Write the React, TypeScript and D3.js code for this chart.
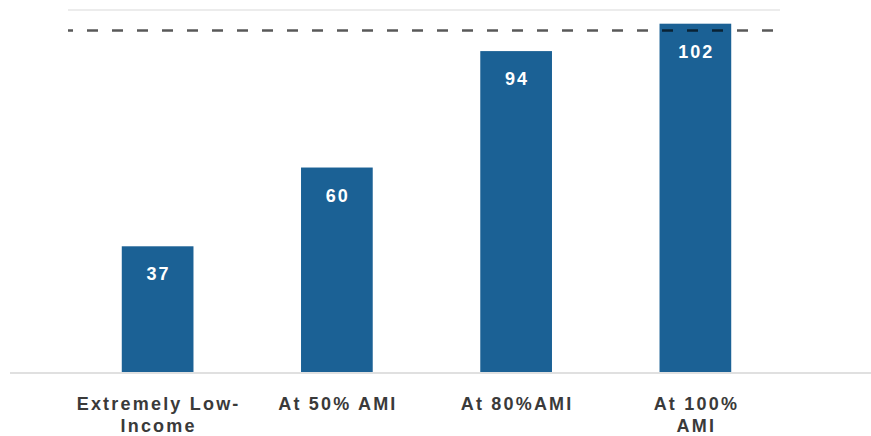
import React from "react";
import * as d3 from "d3";

const categories = ["Extremely Low-Income", "At 50% AMI", "At 80%AMI", "At 100% AMI"];
const categoryLines = [["Extremely Low-", "Income"], ["At 50% AMI"], ["At 80%AMI"], ["At 100%", "AMI"]];
const values = [37, 60, 94, 102];
const referenceValue = [100];
const yMax = 106;

const W = 871;
const H = 436;

export default function App() {
  const x = d3
    .scaleBand<string>()
    .domain(categories)
    .range([68, 785])
    .paddingInner(0.6)
    .paddingOuter(0.3);
  const y = d3.scaleLinear().domain([0, yMax]).range([373, 10]);
  const font = "'Liberation Sans', Arial, sans-serif";
  return (
    <svg
      width={W}
      height={H}
      style={{ position: "absolute", left: 0, top: 0, background: "#fff" }}
    >
      <line x1={68} x2={780} y1={y(yMax)} y2={y(yMax)} stroke="#d9d9d9" strokeWidth={1} />
      {categories.map((c, i) => (
        <g key={c}>
          <rect
            x={x(c)}
            y={y(values[i])}
            width={x.bandwidth()}
            height={y(0) - y(values[i])}
            fill="#1b6195"
          />
          <text
            x={(x(c) as number) + x.bandwidth() / 2 + 1}
            y={y(values[i]) + 34}
            textAnchor="middle"
            fill="#fff"
            fontFamily={font}
            fontWeight={700}
            fontSize={18}
            letterSpacing={2}
          >
            {values[i]}
          </text>
          <text
            x={(x(c) as number) + x.bandwidth() / 2}
            y={410}
            textAnchor="middle"
            fill="#3a3a3a"
            fontFamily={font}
            fontWeight={700}
            fontSize={18}
            letterSpacing={2.2}
          >
            {categoryLines[i].map((l, j) => (
              <tspan key={j} x={(x(c) as number) + x.bandwidth() / 2 + 1} dy={j === 0 ? 0 : 21.5}>
                {l}
              </tspan>
            ))}
          </text>
        </g>
      ))}
      {referenceValue.map((v) => (
        <line
          key={v}
          x1={68}
          x2={780}
          y1={y(v)}
          y2={y(v)}
          stroke="#000"
          strokeOpacity={0.65}
          strokeWidth={2.5}
          strokeDasharray="11 14"
          strokeDashoffset={6}
        />
      ))}
      <line x1={10} x2={W} y1={373} y2={373} stroke="#e0e0e0" strokeWidth={2} />
    </svg>
  );
}
